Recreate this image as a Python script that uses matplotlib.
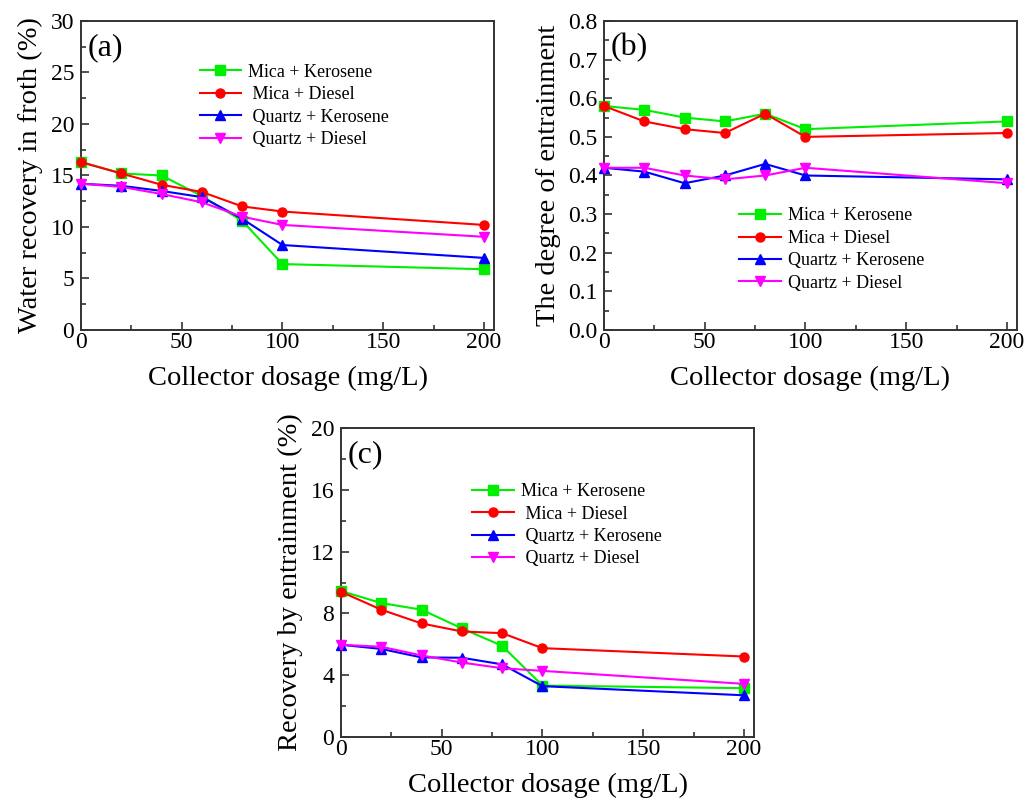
import matplotlib
matplotlib.use("Agg")
import matplotlib.pyplot as plt
import matplotlib.ticker as mticker

plt.rcParams['font.family'] = ['Liberation Serif', 'DejaVu Serif']
plt.rcParams['mathtext.fontset'] = 'stix'

dosage = [0, 20, 40, 60, 80, 100, 200]

# (a) water recovery in froth (%)
wr_mica_ker = [16.3, 15.2, 15.0, 13.0, 10.6, 6.4, 5.9]
wr_mica_die = [16.3, 15.2, 14.1, 13.4, 12.0, 11.5, 10.2]
wr_qtz_ker = [14.2, 14.0, 13.5, 12.9, 10.8, 8.25, 7.0]
wr_qtz_die = [14.2, 13.9, 13.2, 12.4, 11.0, 10.2, 9.05]

# (b) degree of entrainment
de_mica_ker = [0.58, 0.57, 0.55, 0.54, 0.56, 0.52, 0.54]
de_mica_die = [0.58, 0.54, 0.52, 0.51, 0.56, 0.50, 0.51]
de_qtz_ker = [0.42, 0.41, 0.38, 0.40, 0.43, 0.40, 0.39]
de_qtz_die = [0.42, 0.42, 0.40, 0.39, 0.40, 0.42, 0.38]

# (c) recovery by entrainment (%)
re_mica_ker = [9.45, 8.67, 8.24, 7.03, 5.9, 3.33, 3.16]
re_mica_die = [9.4, 8.24, 7.35, 6.83, 6.72, 5.75, 5.21]
re_qtz_ker = [5.97, 5.7, 5.15, 5.13, 4.7, 3.29, 2.7]
re_qtz_die = [5.97, 5.84, 5.28, 4.82, 4.45, 4.28, 3.44]

labels_a = ['Mica + Kerosene', ' Mica + Diesel', ' Quartz + Kerosene', ' Quartz + Diesel']
labels_b = ['Mica + Kerosene', 'Mica + Diesel', 'Quartz + Kerosene', 'Quartz + Diesel']
labels_c = ['Mica + Kerosene', ' Mica + Diesel', ' Quartz + Kerosene', ' Quartz + Diesel']

colors = ['#00ee00', '#ff0000', '#0000ff', '#ff00ff']
markers = ['s', 'o', '^', 'v']

W, H = 1028, 798
fig = plt.figure(figsize=(W / 100, H / 100), dpi=100, facecolor='white')


def px_axes(left, top, right, bottom):
    return fig.add_axes([left / W, 1 - bottom / H, (right - left) / W, (bottom - top) / H])


def draw(ax, series, labels, ylim, ymaj, ymin, ylabel, tag, leg_loc):
    for ys, lab, c, m in zip(series, labels, colors, markers):
        ax.plot(dosage, ys, color=c, marker=m, markersize=6.5, linewidth=1.5,
                label=lab, clip_on=False, zorder=3)
    ax.set_xlim(0, 205)
    ax.set_ylim(*ylim)
    ax.xaxis.set_major_locator(mticker.MultipleLocator(50))
    ax.xaxis.set_minor_locator(mticker.MultipleLocator(25))
    ax.yaxis.set_major_locator(mticker.MultipleLocator(ymaj))
    ax.yaxis.set_minor_locator(mticker.MultipleLocator(ymin))
    ax.tick_params(which='both', direction='in', labelsize=17, width=1.2, color='#333333')
    ax.tick_params(which='major', length=6)
    ax.tick_params(which='minor', length=3.5)
    ax.tick_params(axis='x', which='both', pad=1.5)
    ax.tick_params(axis='y', which='both', pad=5)
    for s in ax.spines.values():
        s.set_linewidth(1.4)
        s.set_color('#333333')
    ax.set_xlabel('Collector dosage (mg/L)', fontsize=20.5, labelpad=9)
    ax.set_ylabel(ylabel, fontsize=20.5, labelpad=5)
    ax.text(0.015, 0.96, tag, transform=ax.transAxes, fontsize=23, va='top', ha='left')
    ax.legend(loc='upper left', bbox_to_anchor=leg_loc, frameon=False, fontsize=13,
              handlelength=2.3, handletextpad=0.4, labelspacing=0.3, borderaxespad=0)


ax1 = px_axes(81, 21, 494, 330)
draw(ax1, [wr_mica_ker, wr_mica_die, wr_qtz_ker, wr_qtz_die], labels_a,
     (0, 30), 5, 2.5, 'Water recovery in froth (%)', '(a)', (0.27, 0.885))

ax2 = px_axes(604, 21, 1017, 330)
draw(ax2, [de_mica_ker, de_mica_die, de_qtz_ker, de_qtz_die], labels_b,
     (0, 0.8), 0.1, 0.05, 'The degree of entrainment', '(b)', (0.31, 0.42))
ax2.yaxis.set_major_formatter(mticker.FormatStrFormatter('%.1f'))

ax3 = px_axes(341, 428, 754, 737)
draw(ax3, [re_mica_ker, re_mica_die, re_qtz_ker, re_qtz_die], labels_c,
     (0, 20), 4, 2, 'Recovery by entrainment (%)', '(c)', (0.3, 0.845))

fig.savefig('out.png', dpi=100, facecolor='white')
